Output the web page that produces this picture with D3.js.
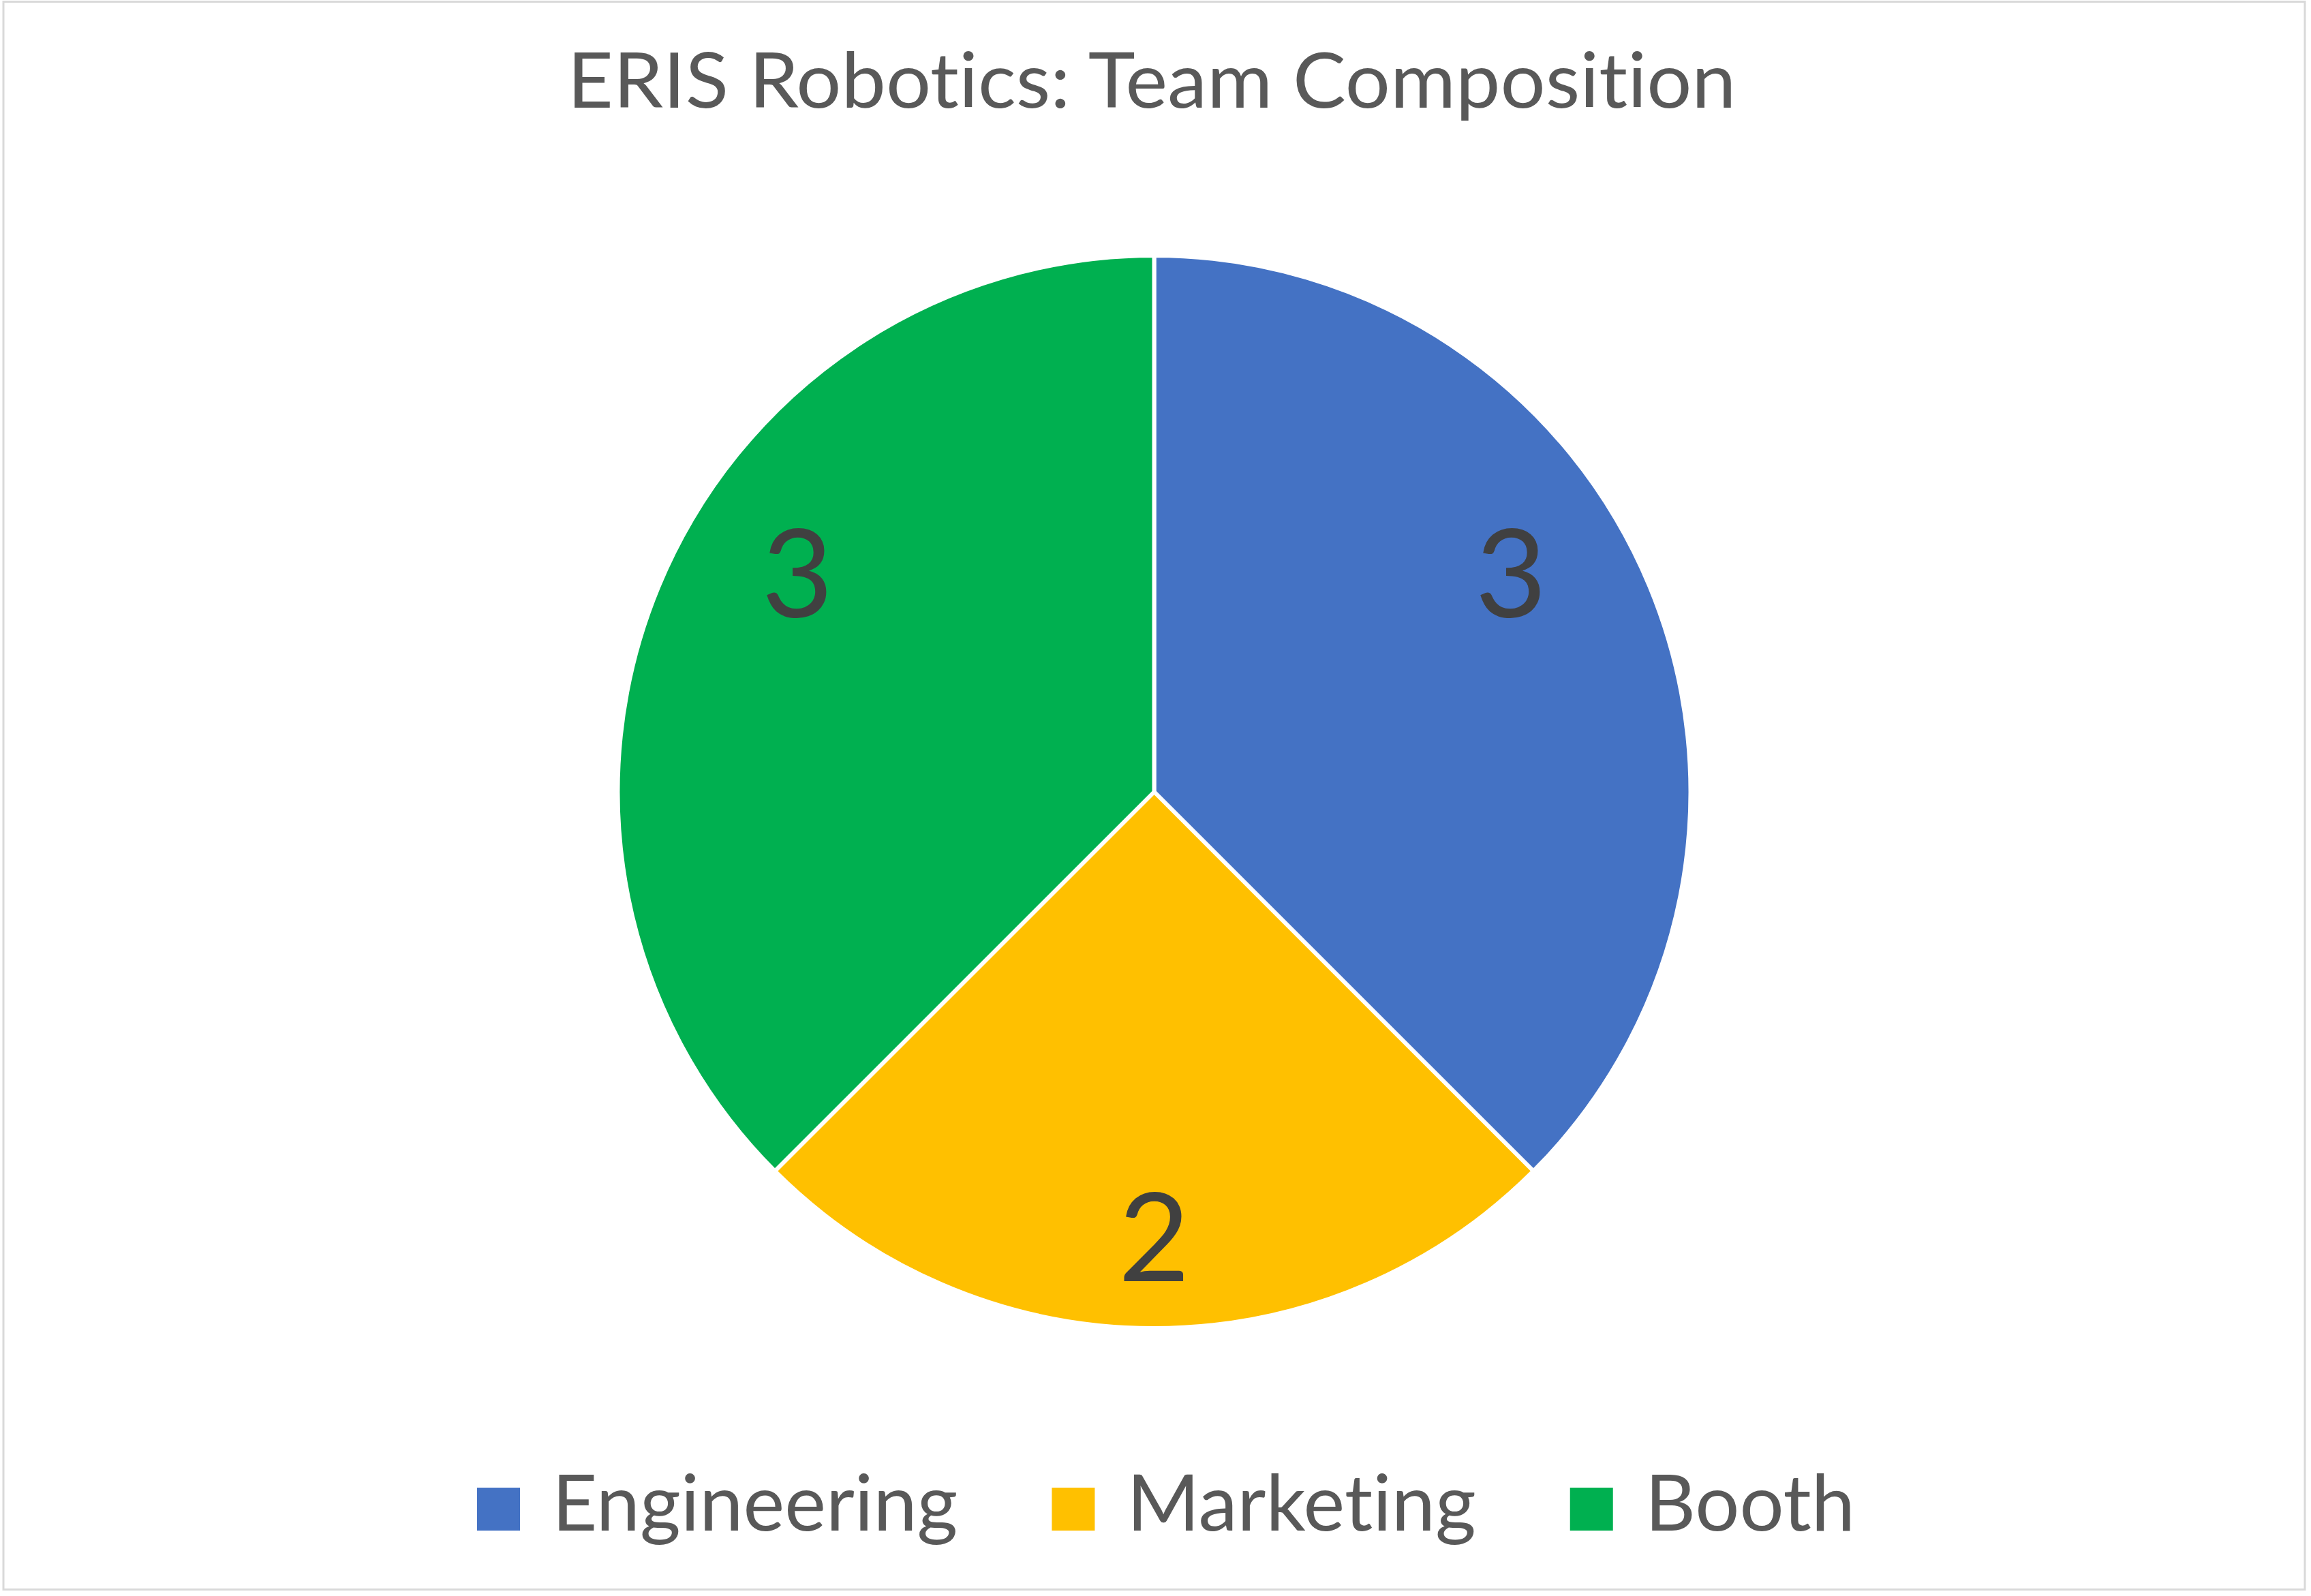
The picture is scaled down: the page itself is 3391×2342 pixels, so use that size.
<!DOCTYPE html>
<html>
<head>
<meta charset="utf-8">
<script src="https://cdn.jsdelivr.net/npm/d3@7"></script>
<style>
  html, body { margin: 0; padding: 0; background: #ffffff; }
  svg { display: block; }
  text { font-variant-ligatures: none; font-feature-settings: "liga" 0, "clig" 0; }
</style>
</head>
<body>
<script>
// ---- Data ----
const title = "ERIS Robotics: Team Composition";
const categories = ["Engineering", "Marketing", "Booth"];
const values = [3, 2, 3];
const colors = ["#4472C4", "#FFC000", "#00B050"];

// ---- Layout ----
const W = 3391, H = 2342;
const cx = 1693.5, cy = 1162, R = 787;
const fontFamily = "Lato, 'Open Sans', 'Noto Sans', sans-serif";

const svg = d3.select("body").append("svg")
  .attr("width", W).attr("height", H)
  .attr("viewBox", `0 0 ${W} ${H}`);

svg.append("rect")
  .attr("x", 0).attr("y", 0).attr("width", W).attr("height", H)
  .attr("fill", "#ffffff");

// chart border
svg.append("rect")
  .attr("x", 5).attr("y", 2.5).attr("width", 3377).attr("height", 2330)
  .attr("fill", "none").attr("stroke", "#D9D9D9").attr("stroke-width", 3);

// title
const titleText = svg.append("text")
  .attr("x", 1690).attr("y", 158)
  .attr("text-anchor", "middle")
  .attr("font-family", fontFamily)
  .attr("font-size", 112)
  .attr("fill", "#595959")
  .text(title);
const titleTarget = 1715;
const tw = titleText.node().getComputedTextLength();
if (Math.abs(tw - titleTarget) > 20) {
  titleText.attr("textLength", titleTarget).attr("lengthAdjust", "spacingAndGlyphs");
}

// pie
const color = d3.scaleOrdinal().domain(categories).range(colors);
const pie = d3.pie().sort(null).value(d => d.value);
const data = categories.map((c, i) => ({ name: c, value: values[i] }));
const arcs = pie(data);
const arc = d3.arc().innerRadius(0).outerRadius(R);

const g = svg.append("g").attr("transform", `translate(${cx},${cy})`);
g.selectAll("path.slice")
  .data(arcs)
  .enter().append("path")
  .attr("class", "slice")
  .attr("d", arc)
  .attr("fill", d => color(d.data.name))
  .attr("stroke", "#ffffff")
  .attr("stroke-width", 6)
  .attr("stroke-linejoin", "miter");

// data labels (box's inner corner placed on mid-angle ray)
const labelSize = 181;
const capH = 0.717 * labelSize;
const hw = 0.14 * labelSize, hh = 0.631 * labelSize;
const labelDist = 0.685 * R;
g.selectAll("text.lbl")
  .data(arcs)
  .enter().append("text")
  .attr("class", "lbl")
  .each(function(d) {
    const a = (d.startAngle + d.endAngle) / 2;
    const ux = Math.sin(a), uy = -Math.cos(a);
    const sx = Math.abs(ux) < 0.01 ? 0 : Math.sign(ux);
    const sy = Math.abs(uy) < 0.01 ? 0 : Math.sign(uy);
    const x = labelDist * ux + sx * hw;
    const y = labelDist * uy + sy * hh;
    d3.select(this).attr("x", x).attr("y", y + capH / 2);
  })
  .attr("text-anchor", "middle")
  .attr("font-family", fontFamily)
  .attr("font-size", labelSize)
  .attr("fill", "#404040")
  .text(d => d.data.value);

// legend
const legendSize = 115;
const sq = 63;
const gapSqText = 47;
const gapItems = 138;
const legendBaseline = 2246;
const legendCenter = 1711;
const lg = svg.append("g");
const items = lg.selectAll("g.item").data(categories).enter().append("g").attr("class", "item");
items.append("rect")
  .attr("width", sq).attr("height", sq)
  .attr("y", legendBaseline - sq)
  .attr("fill", d => color(d));
items.append("text")
  .attr("y", legendBaseline)
  .attr("font-family", fontFamily)
  .attr("font-size", legendSize)
  .attr("fill", "#595959")
  .text(d => d);
let xpos = 0;
items.each(function() {
  const it = d3.select(this);
  const w = it.select("text").node().getComputedTextLength();
  it.select("rect").attr("x", xpos);
  it.select("text").attr("x", xpos + sq + gapSqText);
  xpos += sq + gapSqText + w + gapItems;
});
const totalW = xpos - gapItems;
lg.attr("transform", `translate(${legendCenter - totalW / 2},0)`);
</script>
</body>
</html>
